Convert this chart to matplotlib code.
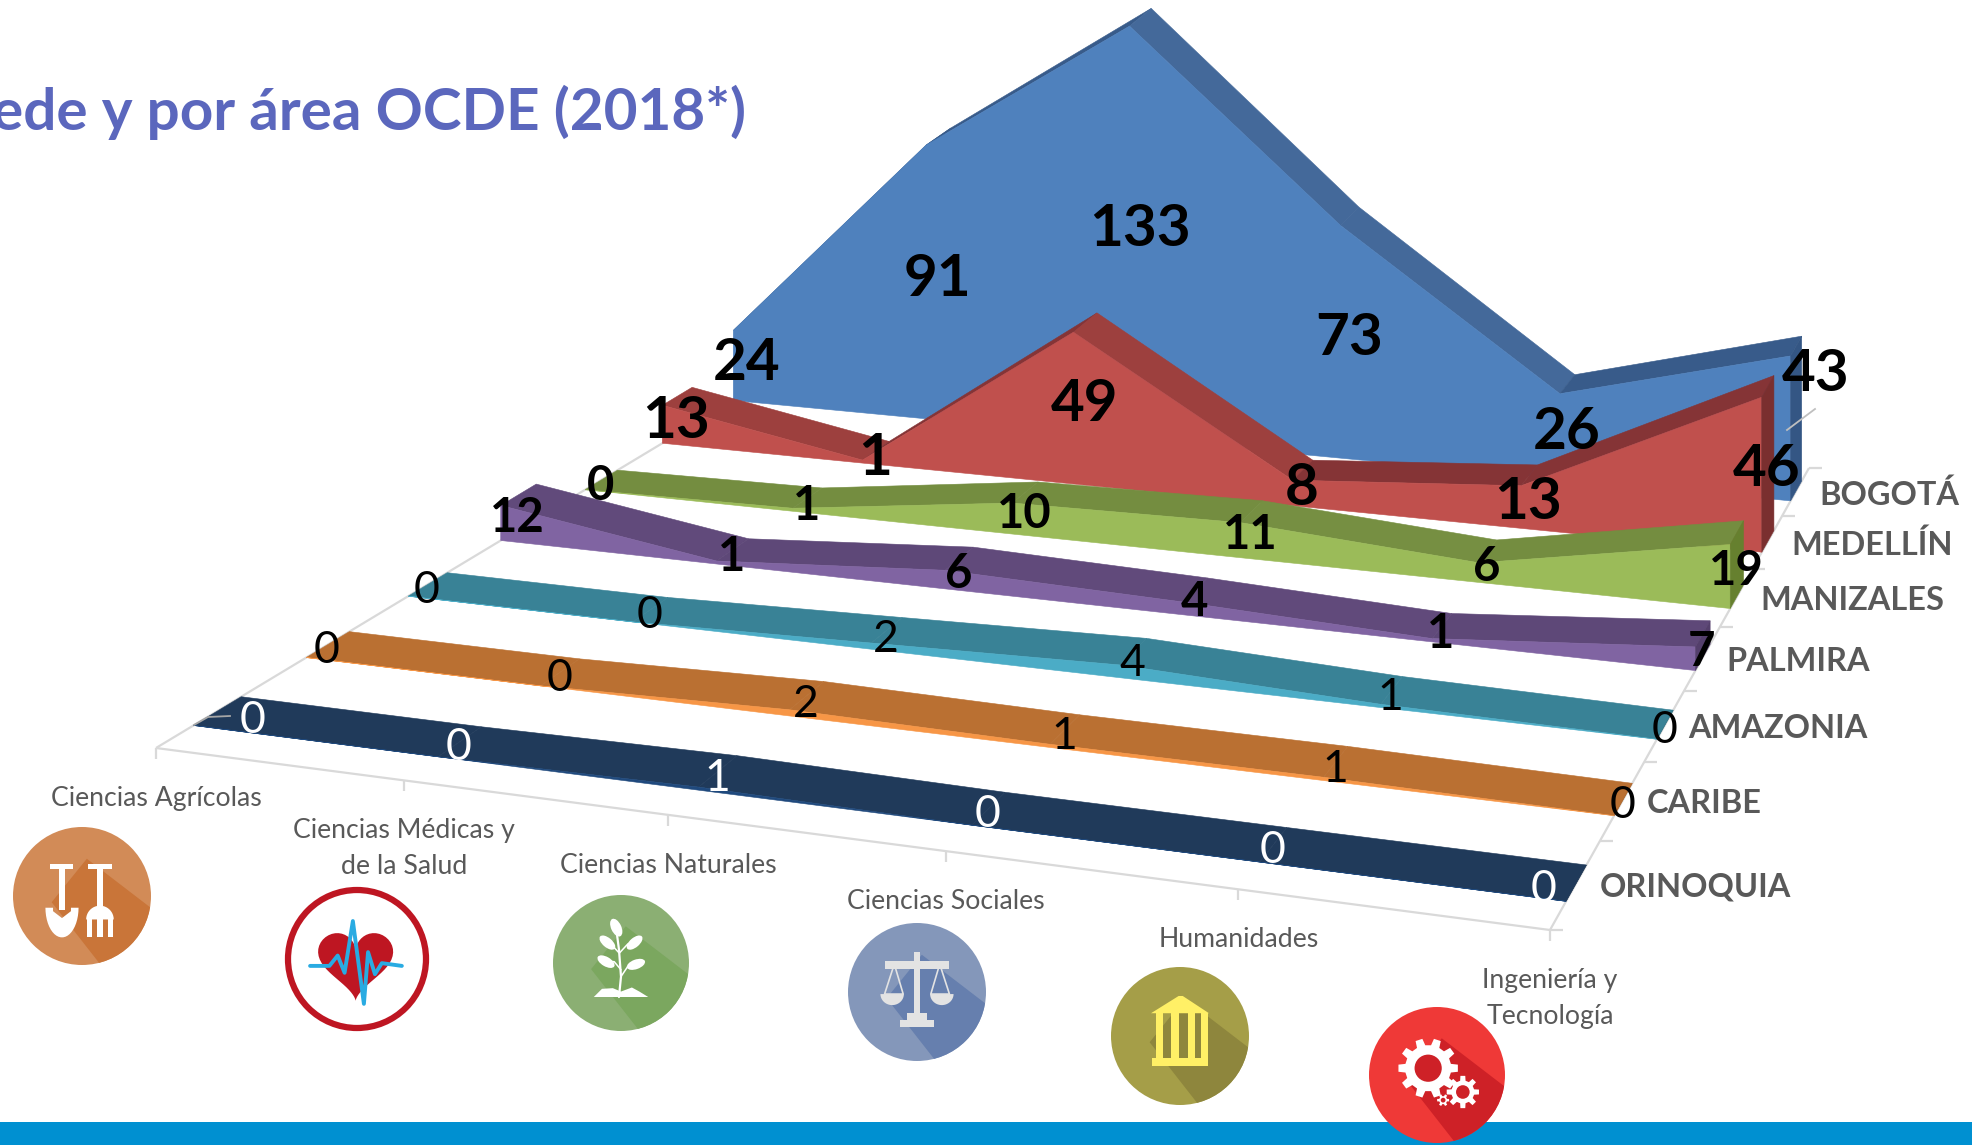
import numpy as np
import matplotlib
matplotlib.use("Agg")
import matplotlib.pyplot as plt
from matplotlib.patches import Polygon, Circle, Rectangle, Ellipse

# ---------- data ----------
categories = ["Ciencias Agrícolas", "Ciencias Médicas y\nde la Salud", "Ciencias Naturales",
              "Ciencias Sociales", "Humanidades", "Ingeniería y\nTecnología"]
sedes = ["ORINOQUIA", "CARIBE", "AMAZONIA", "PALMIRA", "MANIZALES", "MEDELLÍN", "BOGOTÁ"]
orinoquia = [0, 0, 1, 0, 0, 0]
caribe = [0, 0, 2, 1, 1, 0]
amazonia = [0, 0, 2, 4, 1, 0]
palmira = [12, 1, 6, 4, 1, 7]
manizales = [0, 1, 10, 11, 6, 19]
medellin = [13, 1, 49, 8, 13, 46]
bogota = [24, 91, 133, 73, 26, 43]
series = [orinoquia, caribe, amazonia, palmira, manizales, medellin, bogota]

front_cols = ["#1F497D", "#F79646", "#4BACC6", "#8064A2", "#9BBB59", "#C0504D", "#4F81BD"]
top_cols = ["#203A5A", "#BA7032", "#398296", "#614A7B", "#768F42", "#9D403E", "#44699A"]
rise_cols = ["#203A5A", "#BA7032", "#398296", "#5E4878", "#748D40", "#853436", "#385B8A"]
side_cols = ["#1B3350", "#A96229", "#2F6F80", "#543F6C", "#66802F", "#7A2F2F", "#345684"]
lab_cols = ["white", "black", "black", "black", "black", "black", "black"]
lab_wt = ["normal", "normal", "normal", "bold", "bold", "bold", "bold"]
lab_sz = [32, 32, 32, 34, 34, 42, 42]
GRAY = "#595959"
AXIS = "#D9D9D9"

# ---------- floor projection (u across categories, v across sedes) ----------
W, H = 1972, 1145
FL, FR, BR, BL = (156, 748), (1550, 930), (1809, 468), (779, 373)
NV = len(sedes)
src = [(0, 0), (1, 0), (1, NV), (0, NV)]
dst = [FL, FR, BR, BL]
A, b = [], []
for (s, t), (x, y) in zip(src, dst):
    A.append([s, t, 1, 0, 0, 0, -s * x, -t * x]); b.append(x)
    A.append([0, 0, 0, s, t, 1, -s * y, -t * y]); b.append(y)
M = np.append(np.linalg.solve(np.array(A, float), np.array(b, float)), 1).reshape(3, 3)


def proj(u, v, z=0.0):
    p = M @ np.array([u, v, 1.0])
    return p[0] / p[2], p[1] / p[2] - z * (2.92 + 0.45 * u)


V_FRONT, V_BACK = 0.31, 0.72
NC = len(categories)
us = [0, .1955, .395, .595, .796, 1]

fig = plt.figure(figsize=(W / 100, H / 100), dpi=100)
ax = fig.add_axes([0, 0, 1, 1])
ax.set_xlim(0, W)
ax.set_ylim(H, 0)
ax.axis("off")
FONT = "Lato"

# ---------- floor axes ----------
def seg(p, q, **k):
    ax.plot([p[0], q[0]], [p[1], q[1]], color=k.pop("color", AXIS), lw=k.pop("lw", 1.6),
            solid_capstyle="butt", zorder=k.pop("zorder", 1), **k)

seg(FL, FR); seg(FR, BR); seg(FL, BL)
for u in us:
    p = proj(u, 0)
    seg(p, (p[0], p[1] + 11))
for i in range(NV + 1):
    p = proj(1, i)
    seg(p, (p[0] + 13, p[1]))

# ---------- ribbons, back to front ----------
for i in range(NV - 1, -1, -1):
    vals = series[i]
    vf, vb = i + V_FRONT, i + V_BACK
    ftop = [proj(u, vf, z) for u, z in zip(us, vals)]
    btop = [proj(u, vb, z) for u, z in zip(us, vals)]
    fbase = [proj(u, vf) for u in us]
    bbase_r = proj(1, vb)
    for j in range(NC - 1):
        c = rise_cols[i] if vals[j + 1] > vals[j] else top_cols[i]
        ax.add_patch(Polygon([ftop[j], ftop[j + 1], btop[j + 1], btop[j]], closed=True,
                             fc=c, ec=c, lw=0.4, zorder=10 + 3 * (NV - i)))
    ax.add_patch(Polygon(ftop + fbase[::-1], closed=True, fc=front_cols[i], ec=front_cols[i],
                         lw=0.4, zorder=11 + 3 * (NV - i)))
    ax.add_patch(Polygon([fbase[-1], bbase_r, btop[-1], ftop[-1]], closed=True, fc=side_cols[i],
                         ec=side_cols[i], lw=0.4, zorder=11 + 3 * (NV - i)))

# ---------- leader lines ----------
ax.plot([194, 208, 230], [725, 717, 716], color="#A6A6A6", lw=1.3, zorder=60)
ax.plot([1787, 1815], [430, 409], color="#BFBFBF", lw=1.3, zorder=60)

# ---------- data labels ----------
moved = {(0, 0): (36, 4), (0, 5): (-32, 1), (6, 5): (20, -50)}
for i in range(NV):
    for j, val in enumerate(series[i]):
        x, y = proj(us[j], i + (V_FRONT + V_BACK) / 2, val / 2)
        dx, dy = moved.get((i, j), (0, 0))
        ax.text(x + dx - 1, y + dy + 6, str(val), ha="center", va="center", color=lab_cols[i],
                fontsize=lab_sz[i], fontweight=lab_wt[i], family=FONT, zorder=70)

# ---------- axis labels ----------
for i, name in enumerate(sedes):
    x, y = proj(1, i + 0.5)
    ax.text(x + 24, y + 3, name, ha="left", va="center", color=GRAY, fontsize=23.4,
            fontweight="bold", family=FONT, zorder=5)
for u, name in zip(us, categories):
    x, y = proj(u, 0)
    ax.text(x, y + 38, name, ha="center", va="top", color=GRAY, fontsize=19.2, family=FONT,
            linespacing=1.55, zorder=5)

# ---------- title and bottom band ----------
ax.text(746, 112, "ede y por área OCDE (2018*)", ha="right", va="center", color="#5B67BD",
        fontsize=42, fontweight="bold", family=FONT, zorder=5)
ax.add_patch(Rectangle((0, 1122), W, 23, fc="#0090D1", ec="none", zorder=2))


# ---------- icons ----------
SHADOW = [(.07, -.54), (1.1, .25), (1.1, 1.1), (.35, 1.1), (-.44, .09)]

class Icon:
    def __init__(self, cx, cy, r):
        self.cx, self.cy, self.r = cx, cy, r
        self.z = 80

    def pts(self, P):
        return [(self.cx + self.r * x, self.cy + self.r * y) for x, y in P]

    def poly(self, P, c):
        self.z += 0.01
        p = Polygon(self.pts(P), closed=True, fc=c, ec="none", zorder=self.z)
        ax.add_patch(p)
        return p

    def rect(self, x0, y0, x1, y1, c):
        return self.poly([(x0, y0), (x1, y0), (x1, y1), (x0, y1)], c)

    def ell(self, x, y, w, h, c, ang=0):
        self.z += 0.01
        ax.add_patch(Ellipse((self.cx + self.r * x, self.cy + self.r * y), w * self.r, h * self.r,
                             angle=ang, fc=c, ec="none", zorder=self.z))

    def line(self, P, c, lw):
        self.z += 0.01
        q = np.array(self.pts(P))
        ax.plot(q[:, 0], q[:, 1], color=c, lw=lw, zorder=self.z, solid_capstyle="round",
                solid_joinstyle="round")

    def disc(self, light, dark):
        self.z += 0.01
        c = Circle((self.cx, self.cy), self.r, fc=light, ec="none", zorder=self.z)
        ax.add_patch(c)
        self.poly(SHADOW, dark).set_clip_path(c)


def half_ellipse(cx, cy, rx, ry, n=24):
    t = np.linspace(0, np.pi, n)
    return [(cx + rx * np.cos(a), cy + ry * np.sin(a)) for a in t]


def gear(ic, x, y, ro, ri, hole, col, holecol, teeth=8):
    P = []
    for k in range(teeth):
        a = 2 * np.pi * k / teeth
        d = 2 * np.pi / teeth
        for f, rr in ((-.30, ri), (-.19, ro), (.19, ro), (.30, ri)):
            P.append((x + rr * np.cos(a + f * d), y + rr * np.sin(a + f * d)))
    ic.poly(P, col)
    ic.ell(x, y, 2 * hole, 2 * hole, holecol)


# shovel and fork
ic = Icon(82, 896, 69)
ic.disc("#D28B57", "#C97539")
ic.rect(-.47, -.47, -.13, -.39, "white")
ic.rect(-.33, -.42, -.25, .2, "white")
ic.poly([(-.53, .17), (-.42, .17), (-.42, .22), (-.29, .32), (-.16, .22), (-.16, .17), (-.05, .17)]
        + half_ellipse(-.29, .17, .24, .43)[::1], "white")
ic.rect(.09, -.47, .43, -.39, "white")
ic.rect(.22, -.42, .30, .16, "white")
ic.poly(half_ellipse(.26, .34, .2, -.2), "white")
for tx in (.07, .22, .37):
    ic.rect(tx, .32, tx + .08, .6, "white")

# heart
ic = Icon(357, 959, 69)
ic.z += 0.01
ax.add_patch(Circle((ic.cx, ic.cy), 69, fc="white", ec="#BE1622", lw=4.5, zorder=ic.z))
t = np.linspace(0, 2 * np.pi, 80)
ic.poly(list(zip(0.034 * 16 * np.sin(t) ** 3 - .02,
                 -0.034 * (13 * np.cos(t) - 5 * np.cos(2 * t) - 2 * np.cos(3 * t) - np.cos(4 * t)) + .03)),
        "#BE1622")
ic.line([(-.68, .1), (-.4, .1), (-.28, -.05), (-.18, .2), (-.06, -.55), (.1, .65), (.16, -.1),
         (.26, .22), (.36, .06), (.65, .1)], "#29ABE2", 2.8)

# plant
ic = Icon(621, 963, 68)
ic.disc("#8BAF73", "#7BA75F")
ic.line([(-.03, .5), (.0, .2), (-.03, -.2), (-.07, -.5)], "white", 1.6)
ic.line([(.0, .2), (.1, .05), (.2, .02)], "white", 1.1)
ic.line([(.0, .1), (-.1, -.02), (-.2, -.02)], "white", 1.1)
ic.line([(-.02, -.15), (.1, -.28), (.2, -.3)], "white", 1.1)
ic.line([(-.03, -.15), (-.14, -.27), (-.2, -.3)], "white", 1.1)
ic.ell(-.07, -.52, .15, .28, "white", -25)
ic.ell(.2, -.3, .28, .14, "white", -40)
ic.ell(-.2, -.3, .28, .14, "white", 40)
ic.ell(.22, .02, .28, .14, "white", -20)
ic.ell(-.22, -.02, .28, .14, "white", 30)
ic.poly([(-.4, .5), (-.28, .38), (-.12, .37), (.0, .42), (.16, .36), (.27, .42), (.4, .5)], "white")

# scales
ic = Icon(917, 992, 69)
ic.disc("#8497BA", "#667FAE")
grey = "#E3E3E3"
ic.rect(-.47, -.45, .47, -.34, grey)
ic.rect(-.05, -.58, .05, .35, grey)
ic.poly(half_ellipse(-.36, .03, .17, .16), grey)
ic.poly(half_ellipse(.36, .03, .17, .16), grey)
ic.line([(-.35, -.34), (-.47, .03), (-.2, .03), (-.31, -.34)], grey, 1.2)
ic.line([(.31, -.34), (.2, .03), (.47, .03), (.35, -.34)], grey, 1.2)
ic.rect(-.15, .3, .15, .42, grey)
ic.rect(-.25, .4, .25, .5, grey)

# building
ic = Icon(1180, 1036, 69)
ic.disc("#A59E48", "#8E863D")
yel = "#FFF066"
ic.poly([(-.42, -.33), (-.02, -.58), (.04, -.58), (.42, -.33)], yel)
ic.rect(-.35, -.33, -.25, .35, yel)
ic.rect(-.13, -.33, -.02, .35, yel)
ic.rect(.11, -.33, .22, .35, yel)
ic.rect(.3, -.33, .4, .35, yel)
ic.rect(-.4, .32, .4, .44, yel)

# gears
ic = Icon(1437, 1075, 68)
ic.disc("#EF3937", "#CE2127")
gear(ic, -.13, -.1, .44, .34, .2, "white", "#CE2127", 10)
gear(ic, .38, .25, .24, .17, .1, "white", "#CE2127", 8)
gear(ic, .09, .37, .09, .06, .035, "white", "#CE2127", 6)

fig.savefig("out.png", dpi=100, facecolor="white")
